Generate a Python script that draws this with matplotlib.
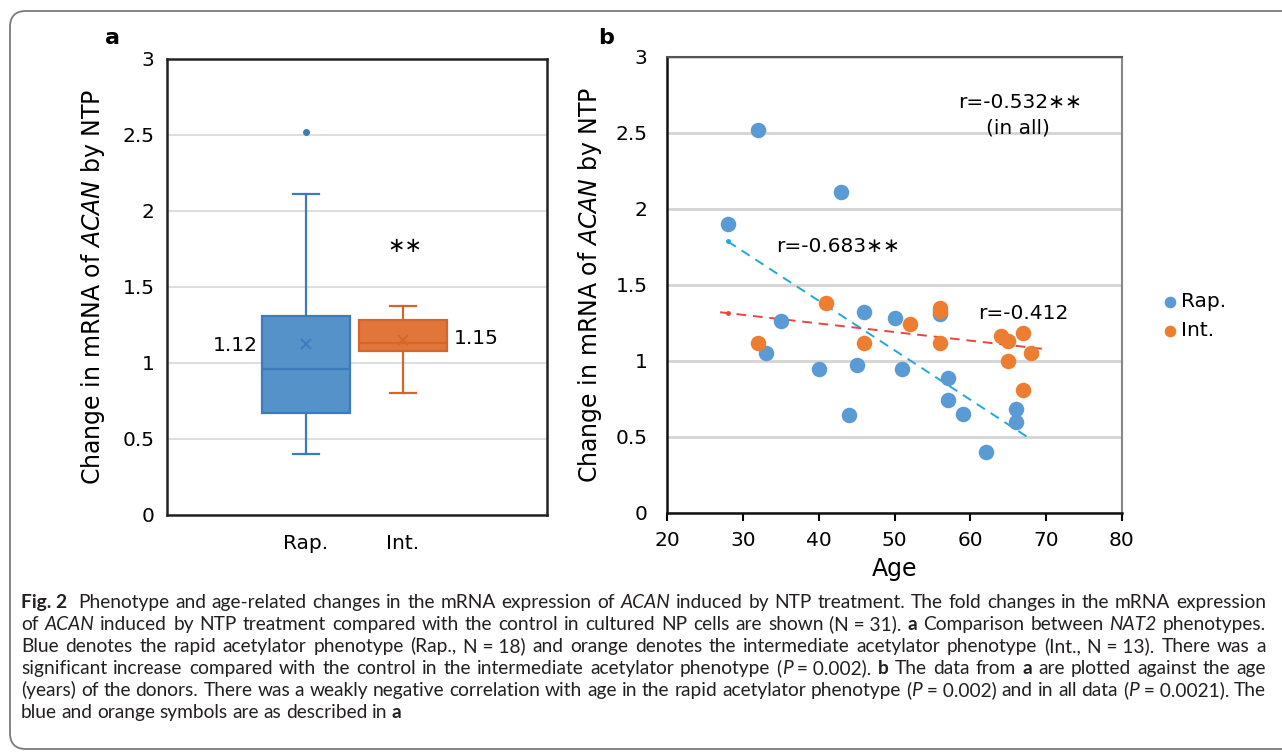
import numpy as np
import matplotlib
matplotlib.use("Agg")
import matplotlib.pyplot as plt
from matplotlib import font_manager
from matplotlib.patches import FancyBboxPatch
from matplotlib.transforms import IdentityTransform
from matplotlib.ticker import FormatStrFormatter

# data
groups = ["Rap.", "Int."]
rap_age = [28, 32, 43, 35, 33, 40, 44, 45, 46, 50, 51, 56, 57, 57, 59, 62, 66, 66]
rap_change = [1.90, 2.52, 2.11, 1.26, 1.05, 0.945, 0.645, 0.974, 1.322, 1.281,
              0.945, 1.307, 0.888, 0.743, 0.651, 0.399, 0.68, 0.597]
int_age = [32, 41, 46, 52, 56, 56, 56, 64, 65, 65, 67, 67, 68]
int_change = [1.114, 1.378, 1.114, 1.24, 1.345, 1.33, 1.118, 1.162, 1.132,
              1.0, 1.182, 0.805, 1.049]
rap_trend_x = [28, 68]
int_trend_x = [27, 69.5]
r_labels = ["r=-0.532\u2217\u2217", "(in all)", "r=-0.683\u2217\u2217", "r=-0.412"]
age_ticks = [20, 30, 40, 50, 60, 70, 80]
y_ticks = [0, 0.5, 1, 1.5, 2, 2.5, 3]

blue = "#5B9BD5"
orange = "#ED7D31"
blue_box, blue_edge = "#5592CA", "#3C7CBD"
orange_box, orange_edge = "#E2763A", "#D4662A"

plt.rcParams["font.family"] = ["DejaVu Sans"]
plt.rcParams["mathtext.fontset"] = "dejavusans"
W, H = 1282, 753
fig = plt.figure(figsize=(W / 100, H / 100), dpi=100)

# outer rounded frame
frame = FancyBboxPatch((10, 4), 1300, 738, boxstyle="round,pad=0,rounding_size=16",
                       transform=IdentityTransform(), fill=False, ec="#7a7a7a", lw=1.3)
fig.add_artist(frame)

# ---------- panel a ----------
ax_a = fig.add_axes([167 / W, 1 - 515 / H, 380 / W, 456 / H])


def box_stats(vals, label):
    v = np.sort(np.asarray(vals, dtype=float))
    q1, med, q3 = np.percentile(v, [25, 50, 75], method="weibull")
    iqr = q3 - q1
    lo = v[v >= q1 - 1.5 * iqr].min()
    hi = v[v <= q3 + 1.5 * iqr].max()
    fl = v[(v < lo) | (v > hi)]
    return dict(label=label, mean=v.mean(), med=med, q1=q1, q3=q3,
                whislo=lo, whishi=hi, fliers=fl)


stats = [box_stats(rap_change, groups[0]), box_stats(int_change, groups[1])]
bp = ax_a.bxp(stats, positions=[1, 2], widths=0.91, capwidths=0.27,
              patch_artist=True, showmeans=True, manage_ticks=False, zorder=3)
faces = [blue_box, orange_box]
edges = [blue_edge, orange_edge]
for i in range(2):
    bp["boxes"][i].set(facecolor=faces[i], edgecolor=edges[i], lw=1.6)
    bp["medians"][i].set(color=edges[i], lw=1.6)
    for ln in bp["whiskers"][2 * i:2 * i + 2] + bp["caps"][2 * i:2 * i + 2]:
        ln.set(color=edges[i], lw=1.6)
    bp["means"][i].set(marker="x", markeredgecolor=edges[i], markersize=7, mew=1.4)
    bp["fliers"][i].set(marker="o", markerfacecolor=edges[i], markeredgecolor=edges[i],
                        markersize=4)

ax_a.set_xlim(-0.433, 3.485)
ax_a.set_ylim(0, 3)
ax_a.set_yticks(y_ticks)
ax_a.yaxis.set_major_formatter(FormatStrFormatter("%g"))
ax_a.set_xticks([1, 2])
ax_a.set_xticklabels(groups)
ax_a.tick_params(axis="x", length=0, pad=14, labelsize=14.5)
ax_a.tick_params(axis="y", length=0, pad=9, labelsize=14.5)
ax_a.yaxis.grid(True, color="#d9d9d9", lw=1.2, zorder=0)
ax_a.set_axisbelow(True)
for sp in ax_a.spines.values():
    sp.set(color="#222222", lw=1.8)
ax_a.set_ylabel(r"Change in mRNA of $\mathit{ACAN}$ by NTP", fontsize=17, labelpad=11)

ax_a.text(1 - 0.455 - 0.04, stats[0]["mean"] - 0.01, f"{stats[0]['mean']:.2f}",
          ha="right", va="center", fontsize=14.5)
ax_a.text(2 + 0.45 + 0.07, stats[1]["mean"] + 0.01, f"{stats[1]['mean']:.2f}",
          ha="left", va="center", fontsize=14.5)
ax_a.text(2.02, 1.77, "\u2217\u2217", ha="center", va="center", fontsize=15)

# ---------- panel b ----------
ax_b = fig.add_axes([667 / W, 1 - 512.7 / H, 455 / W, 456 / H])
ax_b.yaxis.grid(True, color="#d4d4d4", lw=2, zorder=0)
ax_b.set_axisbelow(True)

for xs, ys, trx, col in [(rap_age, rap_change, rap_trend_x, "#1FA8E0"),
                         (int_age, int_change, int_trend_x, "#E8463B")]:
    k, b0 = np.polyfit(xs, ys, 1)
    tx = np.array(trx, dtype=float)
    ax_b.plot(tx, k * tx + b0, color=col, lw=1.4, dashes=(5, 3.5), zorder=2)
    ax_b.plot([28], [k * 28 + b0], "o", color=col, ms=2.5, zorder=2)

sc_rap = ax_b.scatter(rap_age, rap_change, s=125, color=blue, zorder=3, lw=0)
sc_int = ax_b.scatter(int_age, int_change, s=125, color=orange, zorder=3, lw=0)

ax_b.set_xlim(20, 80)
ax_b.set_ylim(0, 3)
ax_b.set_xticks(age_ticks)
ax_b.set_yticks(y_ticks)
ax_b.yaxis.set_major_formatter(FormatStrFormatter("%g"))
ax_b.tick_params(axis="x", direction="out", length=6, width=1.5, pad=7, labelsize=14.5)
ax_b.tick_params(axis="y", length=0, pad=14, labelsize=14.5)
ax_b.spines["left"].set(color="#111111", lw=1.8)
ax_b.spines["bottom"].set(color="#111111", lw=1.8)
ax_b.spines["top"].set(color="#555555", lw=1.5)
ax_b.spines["right"].set(color="#888888", lw=1.5)
ax_b.set_xlabel("Age", fontsize=17, labelpad=5)
ax_b.set_ylabel(r"Change in mRNA of $\mathit{ACAN}$ by NTP", fontsize=17, labelpad=8)

ax_b.text(66.6, 2.70, r_labels[0], ha="center", va="center", fontsize=14.5)
ax_b.text(66.3, 2.53, r_labels[1], ha="center", va="center", fontsize=14.5)
ax_b.text(42.5, 1.75, r_labels[2], ha="center", va="center", fontsize=14.5)
ax_b.text(67.0, 1.31, r_labels[3], ha="center", va="center", fontsize=14.5)

ax_b.legend([sc_rap, sc_int], groups, loc="center left", bbox_to_anchor=(1.083, 0.431),
            frameon=False, handletextpad=0.05, borderpad=0, borderaxespad=0,
            labelspacing=0.5, fontsize=14.5, markerscale=0.75, handlelength=1.0,
            scatterpoints=1)

# panel letters
fig.text(113 / W, 1 - 38 / H, "a", fontsize=16, fontweight="bold", ha="center", va="center")
fig.text(606 / W, 1 - 38 / H, "b", fontsize=16, fontweight="bold", ha="center", va="center")

# ---------- caption (justified, mixed styles) ----------
nb = "\u00a0"
cap_lines = [
    [("Fig." + nb + "2", "b"), ("  Phenotype and age-related changes in the mRNA expression of ", "n"),
     ("ACAN", "i"), (" induced by NTP treatment. The fold changes in the mRNA expression", "n")],
    [("of ", "n"), ("ACAN", "i"),
     (" induced by NTP treatment compared with the control in cultured NP cells are shown (N" + nb + "=" + nb + "31). ", "n"),
     ("a", "b"), (" Comparison between ", "n"), ("NAT2", "i"), (" phenotypes.", "n")],
    [("Blue denotes the rapid acetylator phenotype (Rap., N" + nb + "=" + nb + "18) and orange denotes the "
      "intermediate acetylator phenotype (Int., N" + nb + "=" + nb + "13). There was a", "n")],
    [("significant increase compared with the control in the intermediate acetylator phenotype (", "n"),
     ("P", "i"), (nb + "=" + nb + "0.002). ", "n"), ("b", "b"), (" The data from ", "n"), ("a", "b"),
     (" are plotted against the age", "n")],
    [("(years) of the donors. There was a weakly negative correlation with age in the rapid acetylator phenotype (", "n"),
     ("P", "i"), (nb + "=" + nb + "0.002) and in all data (", "n"), ("P", "i"), (nb + "=" + nb + "0.0021). The", "n")],
    [("blue and orange symbols are as described in ", "n"), ("a", "b")],
]


def pick_font(names):
    for n in names:
        try:
            font_manager.findfont(font_manager.FontProperties(family=n), fallback_to_default=False)
            return n
        except Exception:
            pass
    return "DejaVu Sans"


cap_font = pick_font(["Lato", "Open Sans", "Noto Sans", "Liberation Sans"])
x_left, x_right = 21, 1266
base_y = [608, 630, 652, 674, 696, 718]
cap_size = 13.5
renderer = fig.canvas.get_renderer()
style_kw = {"n": {}, "b": {"fontweight": "bold"}, "i": {"fontstyle": "italic"}}

words_all = []
for line in cap_lines:
    words = [[]]
    for txt, st in line:
        parts = txt.split(" ")
        for j, p in enumerate(parts):
            if j > 0:
                words.append([])
            if p:
                words[-1].append((p, st))
    arts = []
    for w in words:
        arts.append([fig.text(0, 0, p, family=[cap_font, "DejaVu Sans"], fontsize=cap_size,
                              color="#231f20", **style_kw[st]) for p, st in w])
    words_all.append(arts)


def measure(t):
    return t.get_window_extent(renderer).width


space_w = cap_size * 100 / 72 * 0.24
nat = []
for arts in words_all:
    tot = sum(measure(t) for w in arts for t in w) + space_w * (len(arts) - 1)
    nat.append(tot)
scale = min(1.1, (x_right - x_left) / (max(nat) * 1.005))
cap_size *= scale
space_w *= scale
for arts in words_all:
    for w in arts:
        for t in w:
            t.set_fontsize(cap_size)

for li, arts in enumerate(words_all):
    widths = [[measure(t) for t in w] for w in arts]
    total = sum(sum(ws) for ws in widths)
    if li < len(words_all) - 1:
        gap = (x_right - x_left - total) / (len(arts) - 1)
    else:
        gap = space_w
    x = x_left
    for w, ws in zip(arts, widths):
        for t, wd in zip(w, ws):
            t.set_position((x / W, 1 - base_y[li] / H))
            t.set_va("baseline")
            x += wd
        x += gap

fig.savefig("out.png", dpi=100)
